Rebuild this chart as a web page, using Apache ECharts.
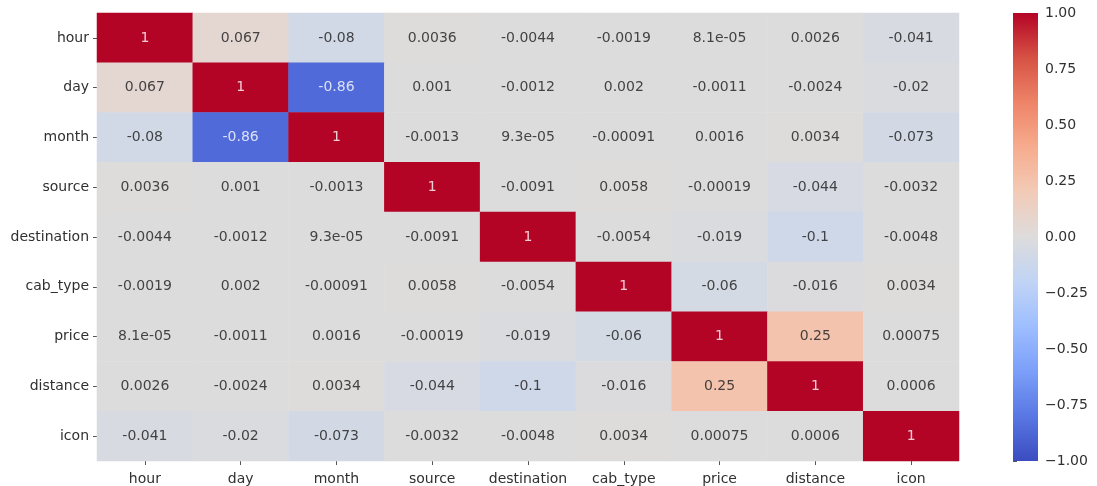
<!DOCTYPE html>
<html>
<head>
<meta charset="utf-8">
<script src="https://cdn.jsdelivr.net/npm/echarts@6/dist/echarts.min.js"></script>
<style>
  html, body { margin: 0; padding: 0; background: #fff; }
  #chart { width: 1097px; height: 486px; }
</style>
</head>
<body>
<div id="chart"></div>
<script>
// Feature names (same order for rows and columns)
const features = ['hour', 'day', 'month', 'source', 'destination', 'cab_type', 'price', 'distance', 'icon'];

// Correlation matrix, one array per row
const rowHour        = [1, 0.067, -0.08, 0.0036, -0.0044, -0.0019, 8.1e-05, 0.0026, -0.041];
const rowDay         = [0.067, 1, -0.86, 0.001, -0.0012, 0.002, -0.0011, -0.0024, -0.02];
const rowMonth       = [-0.08, -0.86, 1, -0.0013, 9.3e-05, -0.00091, 0.0016, 0.0034, -0.073];
const rowSource      = [0.0036, 0.001, -0.0013, 1, -0.0091, 0.0058, -0.00019, -0.044, -0.0032];
const rowDestination = [-0.0044, -0.0012, 9.3e-05, -0.0091, 1, -0.0054, -0.019, -0.1, -0.0048];
const rowCabType     = [-0.0019, 0.002, -0.00091, 0.0058, -0.0054, 1, -0.06, -0.016, 0.0034];
const rowPrice       = [8.1e-05, -0.0011, 0.0016, -0.00019, -0.019, -0.06, 1, 0.25, 0.00075];
const rowDistance    = [0.0026, -0.0024, 0.0034, -0.044, -0.1, -0.016, 0.25, 1, 0.0006];
const rowIcon        = [-0.041, -0.02, -0.073, -0.0032, -0.0048, 0.0034, 0.00075, 0.0006, 1];

// Colour bar tick values
const colorbarTicks = [-1, -0.75, -0.5, -0.25, 0, 0.25, 0.5, 0.75, 1];

// coolwarm diverging palette, low -> high
const coolwarm = ['#3b4cc0', '#5977e3', '#7b9ff9', '#9ebeff', '#c0d4f5', '#dddcdc',
                  '#f2cbb7', '#f7ac8e', '#ee8468', '#d65244', '#b40426'];

const rows = [rowHour, rowDay, rowMonth, rowSource, rowDestination, rowCabType, rowPrice, rowDistance, rowIcon];

const cells = [];
rows.forEach((row, r) => row.forEach((v, c) => cells.push([c, r, v])));

// Two significant digits, general format
function fmtG2(v) {
  if (v === 0) return '0';
  const e = Math.floor(Math.log10(Math.abs(v)));
  if (e < -4 || e >= 2) {
    let s = v.toExponential(1);
    let [m, ex] = s.split('e');
    if (m.indexOf('.') >= 0) m = m.replace(/0+$/, '').replace(/\.$/, '');
    const sign = ex[0] === '-' ? '-' : '+';
    let digits = ex.replace(/^[+-]/, '');
    if (digits.length < 2) digits = '0' + digits;
    return m + 'e' + sign + digits;
  }
  let s = v.toPrecision(2);
  if (s.indexOf('.') >= 0) s = s.replace(/0+$/, '').replace(/\.$/, '');
  return s;
}

const FONT = 'DejaVu Sans';
const TXT = '#303030';
const FS = 14;

const chart = echarts.init(document.getElementById('chart'), null, { renderer: 'canvas' });

const plotLeft = 97, plotTop = 13, plotW = 862, plotH = 448;
const cbLeft = 1013, cbW = 25;

chart.setOption({
  animation: false,
  backgroundColor: '#ffffff',
  grid: [
    { left: plotLeft, top: plotTop, width: plotW, height: plotH },
    { left: cbLeft, top: plotTop, width: cbW, height: plotH }
  ],
  xAxis: [
    {
      type: 'category', gridIndex: 0, data: features, position: 'bottom',
      axisLine: { show: false },
      axisTick: { show: true, alignWithLabel: true, interval: 0, length: 4, lineStyle: { color: '#555' } },
      axisLabel: { color: TXT, fontFamily: FONT, fontSize: FS, margin: 11, interval: 0, hideOverlap: false },
      splitLine: { show: false }
    },
    {
      type: 'value', gridIndex: 1, min: 0, max: 1, show: false
    }
  ],
  yAxis: [
    {
      type: 'category', gridIndex: 0, data: features, inverse: true,
      axisLine: { show: false },
      axisTick: { show: true, alignWithLabel: true, interval: 0, length: 4, lineStyle: { color: '#555' } },
      axisLabel: { color: TXT, fontFamily: FONT, fontSize: FS, margin: 8, interval: 0 },
      splitLine: { show: false }
    },
    {
      type: 'value', gridIndex: 1, min: -1, max: 1, interval: 0.25, position: 'right',
      axisLine: { show: false },
      axisTick: { show: true, length: 4, lineStyle: { color: '#555' } },
      axisLabel: {
        color: TXT, fontFamily: FONT, fontSize: FS, margin: 7,
        formatter: v => (v < 0 ? '\u2212' : '') + Math.abs(v).toFixed(2)
      },
      splitLine: { show: false }
    }
  ],
  visualMap: {
    show: false, type: 'continuous', min: -1, max: 1, seriesIndex: 0, dimension: 2,
    inRange: { color: coolwarm }
  },
  series: [
    {
      type: 'heatmap', xAxisIndex: 0, yAxisIndex: 0,
      data: cells.map(d => ({
        value: d,
        // light annotation text on strongly coloured cells
        label: { color: Math.abs(d[2]) > 0.5 ? 'rgba(255,255,255,0.8)' : 'rgba(40,40,40,0.85)' }
      })),
      itemStyle: { borderWidth: 0 },
      label: {
        show: true, fontFamily: FONT, fontSize: FS,
        formatter: p => fmtG2(p.value[2])
      },
      emphasis: { disabled: true }
    },
    {
      // colour bar: gradient strip spanning the value range
      type: 'custom', xAxisIndex: 1, yAxisIndex: 1, silent: true,
      data: [[0, 1, -1]],
      renderItem: (params, api) => {
        const top = api.coord([0, colorbarTicks[colorbarTicks.length - 1]]);
        const bot = api.coord([1, colorbarTicks[0]]);
        const stops = coolwarm.map((c, i) => ({ offset: i / (coolwarm.length - 1), color: c }));
        return {
          type: 'rect',
          shape: { x: top[0], y: top[1], width: bot[0] - top[0], height: bot[1] - top[1] },
          style: { fill: new echarts.graphic.LinearGradient(0, 1, 0, 0, stops) }
        };
      }
    }
  ]
});
</script>
</body>
</html>
